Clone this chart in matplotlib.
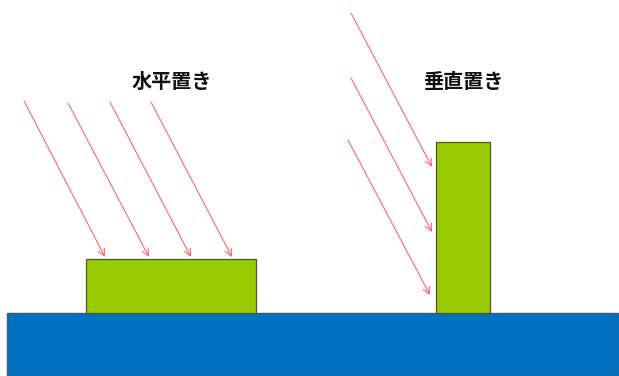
import matplotlib.pyplot as plt
from matplotlib.patches import Rectangle

plt.rcParams['font.family'] = ['Noto Sans CJK JP', 'DejaVu Sans']

# Diagram coordinates in pixels (y grows downwards)
labels = ['水平置き', '垂直置き']
label_x = [172, 463]
label_y = [81, 82]

# panels: x, y(top), width, height
panel_x = [86, 436]
panel_y = [259, 142]
panel_w = [170, 54]
panel_h = [54, 171]

# ground
ground = [7, 313, 612, 63]

# sunlight rays: start -> end
ray_x0 = [24, 68, 110, 151, 351, 351, 348]
ray_y0 = [101, 103, 102, 102, 13, 78, 140]
ray_x1 = [105, 149, 191, 232, 432, 432, 430]
ray_y1 = [257, 257, 257, 257, 167, 232, 295]

fig = plt.figure(figsize=(6.19, 3.76), dpi=100)
ax = fig.add_axes([0, 0, 1, 1])
ax.set_xlim(0, 619)
ax.set_ylim(376, 0)
ax.axis('off')

ax.add_patch(Rectangle((ground[0], ground[1]), ground[2], ground[3],
                       facecolor='#0070C0', edgecolor='#4a5a6a', linewidth=1.0))

for x, y, w, h in zip(panel_x, panel_y, panel_w, panel_h):
    ax.add_patch(Rectangle((x, y), w, h, facecolor='#99CC00',
                           edgecolor='#4b5a2a', linewidth=0.9, zorder=3))

for x0, y0, x1, y1 in zip(ray_x0, ray_y0, ray_x1, ray_y1):
    ax.annotate('', xy=(x1, y1), xytext=(x0, y0),
                arrowprops=dict(arrowstyle='->,head_length=0.5,head_width=0.25',
                                color='#ff6666', lw=0.8, shrinkA=0, shrinkB=0))

for t, x, y in zip(labels, label_x, label_y):
    ax.text(x, y, t, ha='center', va='center', fontsize=14.5,
            fontweight='bold', color='#111111')

fig.savefig('out.png', dpi=100)
